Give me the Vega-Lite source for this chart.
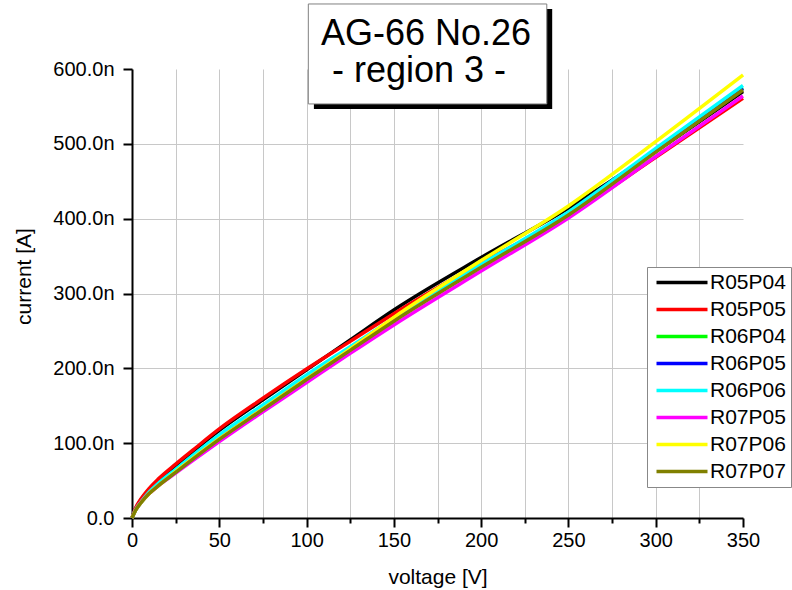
{
  "$schema": "https://vega.github.io/schema/vega-lite/v6.json",
  "width": 611,
  "height": 449,
  "autosize": {"type": "none"},
  "padding": {"left": 132, "top": 69, "right": 49, "bottom": 72},
  "background": "white",
  "config": {
    "view": {"stroke": null},
    "font": "Liberation Sans",
    "axis": {
      "domainColor": "black",
      "domainWidth": 2,
      "tickColor": "black",
      "tickWidth": 2,
      "gridColor": "#c8c8c8",
      "gridWidth": 1,
      "labelColor": "black",
      "titleColor": "black",
      "labelFontSize": 20,
      "titleFontSize": 21,
      "titleFontWeight": "normal",
      "labelFont": "Liberation Sans",
      "titleFont": "Liberation Sans"
    }
  },
  "datasets": {
    "iv": [
      {"series":"R05P04","voltage":0,"current":0},{"series":"R05P04","voltage":2,"current":12},{"series":"R05P04","voltage":5,"current":24},{"series":"R05P04","voltage":10,"current":38},{"series":"R05P04","voltage":15,"current":50},{"series":"R05P04","voltage":25,"current":70},{"series":"R05P04","voltage":35,"current":89},{"series":"R05P04","voltage":50,"current":117},{"series":"R05P04","voltage":75,"current":158},{"series":"R05P04","voltage":100,"current":198},{"series":"R05P04","voltage":125,"current":238},{"series":"R05P04","voltage":150,"current":278},{"series":"R05P04","voltage":200,"current":348},{"series":"R05P04","voltage":250,"current":414},{"series":"R05P04","voltage":300,"current":490},{"series":"R05P04","voltage":350,"current":570},
      {"series":"R05P05","voltage":0,"current":0},{"series":"R05P05","voltage":2,"current":13},{"series":"R05P05","voltage":5,"current":25},{"series":"R05P05","voltage":10,"current":40},{"series":"R05P05","voltage":15,"current":52},{"series":"R05P05","voltage":25,"current":72},{"series":"R05P05","voltage":35,"current":91},{"series":"R05P05","voltage":50,"current":119},{"series":"R05P05","voltage":75,"current":160},{"series":"R05P05","voltage":100,"current":199},{"series":"R05P05","voltage":125,"current":236},{"series":"R05P05","voltage":150,"current":273},{"series":"R05P05","voltage":200,"current":341},{"series":"R05P05","voltage":250,"current":404},{"series":"R05P05","voltage":300,"current":482},{"series":"R05P05","voltage":350,"current":561},
      {"series":"R06P04","voltage":0,"current":0},{"series":"R06P04","voltage":2,"current":11},{"series":"R06P04","voltage":5,"current":21},{"series":"R06P04","voltage":10,"current":34},{"series":"R06P04","voltage":15,"current":45},{"series":"R06P04","voltage":25,"current":64},{"series":"R06P04","voltage":35,"current":82},{"series":"R06P04","voltage":50,"current":109},{"series":"R06P04","voltage":75,"current":149},{"series":"R06P04","voltage":100,"current":189},{"series":"R06P04","voltage":125,"current":227},{"series":"R06P04","voltage":150,"current":265},{"series":"R06P04","voltage":200,"current":337},{"series":"R06P04","voltage":250,"current":407},{"series":"R06P04","voltage":300,"current":491},{"series":"R06P04","voltage":350,"current":575},
      {"series":"R06P05","voltage":0,"current":0},{"series":"R06P05","voltage":2,"current":10},{"series":"R06P05","voltage":5,"current":20},{"series":"R06P05","voltage":10,"current":34},{"series":"R06P05","voltage":15,"current":44},{"series":"R06P05","voltage":25,"current":63},{"series":"R06P05","voltage":35,"current":81},{"series":"R06P05","voltage":50,"current":108},{"series":"R06P05","voltage":75,"current":148},{"series":"R06P05","voltage":100,"current":188},{"series":"R06P05","voltage":125,"current":226},{"series":"R06P05","voltage":150,"current":264},{"series":"R06P05","voltage":200,"current":336},{"series":"R06P05","voltage":250,"current":406},{"series":"R06P05","voltage":300,"current":490},{"series":"R06P05","voltage":350,"current":574},
      {"series":"R06P06","voltage":0,"current":0},{"series":"R06P06","voltage":2,"current":11},{"series":"R06P06","voltage":5,"current":21},{"series":"R06P06","voltage":10,"current":35},{"series":"R06P06","voltage":15,"current":46},{"series":"R06P06","voltage":25,"current":65},{"series":"R06P06","voltage":35,"current":84},{"series":"R06P06","voltage":50,"current":111},{"series":"R06P06","voltage":75,"current":151},{"series":"R06P06","voltage":100,"current":191},{"series":"R06P06","voltage":125,"current":229},{"series":"R06P06","voltage":150,"current":267},{"series":"R06P06","voltage":200,"current":339},{"series":"R06P06","voltage":250,"current":409},{"series":"R06P06","voltage":300,"current":494},{"series":"R06P06","voltage":350,"current":578},
      {"series":"R07P05","voltage":0,"current":0},{"series":"R07P05","voltage":2,"current":11},{"series":"R07P05","voltage":5,"current":21},{"series":"R07P05","voltage":10,"current":33},{"series":"R07P05","voltage":15,"current":43},{"series":"R07P05","voltage":25,"current":60},{"series":"R07P05","voltage":35,"current":77},{"series":"R07P05","voltage":50,"current":102},{"series":"R07P05","voltage":75,"current":142},{"series":"R07P05","voltage":100,"current":181},{"series":"R07P05","voltage":125,"current":220},{"series":"R07P05","voltage":150,"current":258},{"series":"R07P05","voltage":200,"current":330},{"series":"R07P05","voltage":250,"current":401},{"series":"R07P05","voltage":300,"current":483},{"series":"R07P05","voltage":350,"current":564},
      {"series":"R07P06","voltage":0,"current":0},{"series":"R07P06","voltage":2,"current":10},{"series":"R07P06","voltage":5,"current":20},{"series":"R07P06","voltage":10,"current":33},{"series":"R07P06","voltage":15,"current":43},{"series":"R07P06","voltage":25,"current":62},{"series":"R07P06","voltage":35,"current":80},{"series":"R07P06","voltage":50,"current":106},{"series":"R07P06","voltage":75,"current":146},{"series":"R07P06","voltage":100,"current":186},{"series":"R07P06","voltage":125,"current":226},{"series":"R07P06","voltage":150,"current":268},{"series":"R07P06","voltage":200,"current":344},{"series":"R07P06","voltage":250,"current":417},{"series":"R07P06","voltage":300,"current":503},{"series":"R07P06","voltage":350,"current":592},
      {"series":"R07P07","voltage":0,"current":0},{"series":"R07P07","voltage":2,"current":10},{"series":"R07P07","voltage":5,"current":20},{"series":"R07P07","voltage":10,"current":33},{"series":"R07P07","voltage":15,"current":43},{"series":"R07P07","voltage":25,"current":61},{"series":"R07P07","voltage":35,"current":79},{"series":"R07P07","voltage":50,"current":105},{"series":"R07P07","voltage":75,"current":145},{"series":"R07P07","voltage":100,"current":185},{"series":"R07P07","voltage":125,"current":224},{"series":"R07P07","voltage":150,"current":263},{"series":"R07P07","voltage":200,"current":335},{"series":"R07P07","voltage":250,"current":405},{"series":"R07P07","voltage":300,"current":489},{"series":"R07P07","voltage":350,"current":572}
    ],
    "note": [{"line1": "AG-66 No.26", "line2": "- region 3 -"}]
  },
  "layer": [
    {
      "data": {"name": "iv"},
      "mark": {"type": "line", "strokeWidth": 3.5, "interpolate": "monotone", "clip": false},
      "encoding": {
        "x": {
          "field": "voltage", "type": "quantitative",
          "scale": {"domain": [0, 350], "nice": false, "zero": false},
          "axis": {
            "title": "voltage [V]",
            "values": [0,25,50,75,100,125,150,175,200,225,250,275,300,325,350],
            "labelExpr": "datum.value % 50 == 0 ? datum.label : ''",
            "format": "d",
            "grid": true,
            "gridOpacity": {"condition": {"test": "datum.value >= 350", "value": 0}, "value": 1},
            "tickSize": {"condition": {"test": "datum.value % 50 == 0", "value": 9}, "value": 5},
            "labelPadding": 3,
            "titlePadding": 16,
            "labelFlush": false,
            "labelOverlap": false
          }
        },
        "y": {
          "field": "current", "type": "quantitative",
          "scale": {"domain": [0, 600], "nice": false},
          "axis": {
            "title": "current [A]",
            "titleY": 207,
            "values": [0,50,100,150,200,250,300,350,400,450,500,550,600],
            "labelExpr": "datum.value % 100 == 0 ? (datum.value == 0 ? '0.0' : format(datum.value, '.1f') + 'n') : ''",
            "grid": true,
            "gridOpacity": {"condition": {"test": "datum.value >= 600", "value": 0}, "value": 1},
            "tickSize": {"condition": {"test": "datum.value % 100 == 0", "value": 9}, "value": 5},
            "labelPadding": 9,
            "titlePadding": 18,
            "labelFlush": false,
            "labelOverlap": false
          }
        },
        "color": {
          "field": "series", "type": "nominal",
          "scale": {
            "domain": ["R05P04","R05P05","R06P04","R06P05","R06P06","R07P05","R07P06","R07P07"],
            "range": ["#000000","#ff0000","#00ff00","#0000ff","#00ffff","#ff00ff","#ffff00","#808000"]
          },
          "legend": {
            "title": null,
            "orient": "none",
            "legendX": 515,
            "legendY": 198,
            "fillColor": "white",
            "strokeColor": "#888888",
            "padding": 5,
            "symbolType": "M-1,0H7.5",
            "symbolSize": 144,
            "symbolStrokeWidth": 3.5,
            "labelOffset": 37,
            "labelFontSize": 21,
            "labelColor": "black",
            "labelFont": "Liberation Sans",
            "rowPadding": 5
          }
        }
      }
    },
    {
      "data": {"name": "note"},
      "mark": {"type": "rect", "color": "black", "clip": false},
      "encoding": {
        "x": {"datum": 104.2}, "x2": {"datum": 240.7},
        "y": {"datum": 680.2}, "y2": {"datum": 546.6}
      }
    },
    {
      "data": {"name": "note"},
      "mark": {"type": "rect", "fill": "white", "stroke": "#808080", "strokeWidth": 1, "clip": false},
      "encoding": {
        "x": {"datum": 101.0}, "x2": {"datum": 237.6},
        "y": {"datum": 686.9}, "y2": {"datum": 553.3}
      }
    },
    {
      "data": {"name": "note"},
      "mark": {"type": "text", "fontSize": 36, "font": "Liberation Sans", "color": "black", "align": "center", "baseline": "alphabetic", "clip": false},
      "encoding": {
        "x": {"datum": 168.4}, "y": {"datum": 632.1},
        "text": {"field": "line1"}
      }
    },
    {
      "data": {"name": "note"},
      "mark": {"type": "text", "fontSize": 36, "font": "Liberation Sans", "color": "black", "align": "center", "baseline": "alphabetic", "clip": false},
      "encoding": {
        "x": {"datum": 164.4}, "y": {"datum": 582.6},
        "text": {"field": "line2"}
      }
    }
  ]
}
